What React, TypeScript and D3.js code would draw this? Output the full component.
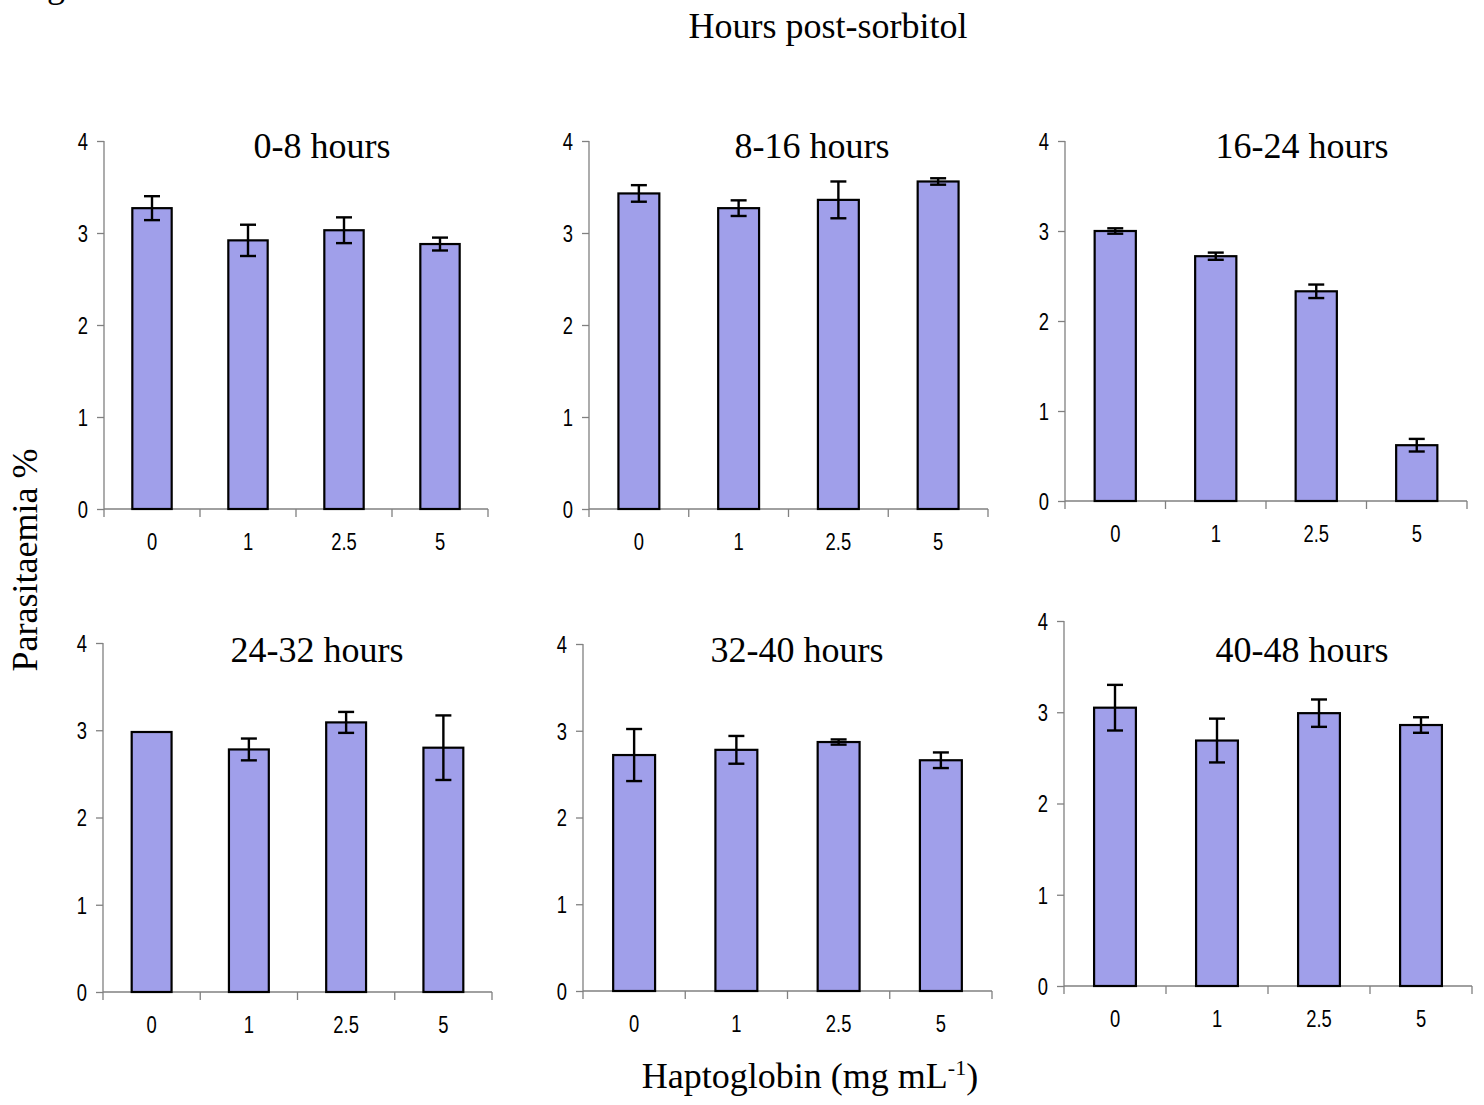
import { useEffect, useRef } from "react";
import * as d3 from "d3";

// haptoglobin doses (mg/mL)
const doses = ["0", "1", "2.5", "5"];
const yTicks = [0, 1, 2, 3, 4];

const titles = ["0-8 hours", "8-16 hours", "16-24 hours", "24-32 hours", "32-40 hours", "40-48 hours"];

// parasitaemia % (mean) and error per window
const mean0to8 = [3.27, 2.92, 3.03, 2.88];
const err0to8 = [0.13, 0.17, 0.14, 0.07];
const mean8to16 = [3.43, 3.27, 3.36, 3.56];
const err8to16 = [0.09, 0.085, 0.2, 0.035];
const mean16to24 = [3.0, 2.72, 2.33, 0.62];
const err16to24 = [0.03, 0.04, 0.075, 0.07];
const mean24to32 = [2.98, 2.78, 3.09, 2.8];
const err24to32 = [0, 0.125, 0.12, 0.37];
const mean32to40 = [2.72, 2.78, 2.87, 2.66];
const err32to40 = [0.3, 0.16, 0.03, 0.09];
const mean40to48 = [3.05, 2.69, 2.99, 2.86];
const err40to48 = [0.25, 0.24, 0.15, 0.085];

const means = [mean0to8, mean8to16, mean16to24, mean24to32, mean32to40, mean40to48];
const errs = [err0to8, err8to16, err16to24, err24to32, err32to40, err40to48];

// panel frames: y-axis x, x-axis end, y of top (4) and y of 0, title position
const frames = [
  { x0: 104, x1: 488, yTop: 141, yBot: 509, tx: 322, ty: 158 },
  { x0: 589, x1: 988, yTop: 141, yBot: 509, tx: 812, ty: 158 },
  { x0: 1065, x1: 1467, yTop: 141, yBot: 501, tx: 1302, ty: 158 },
  { x0: 103, x1: 492, yTop: 643, yBot: 992, tx: 317, ty: 662 },
  { x0: 583, x1: 992, yTop: 644, yBot: 991, tx: 797, ty: 662 },
  { x0: 1064, x1: 1472, yTop: 621, yBot: 986, tx: 1302, ty: 662 },
];

const W = 1484;
const H = 1105;
const serif = "'Liberation Serif', 'Times New Roman', serif";
const sans = "'Liberation Sans', Arial, sans-serif";

function App() {
  const ref = useRef<SVGSVGElement>(null);

  useEffect(() => {
    const svg = d3.select(ref.current);
    svg.selectAll("*").remove();

    svg.append("rect").attr("width", W).attr("height", H).attr("fill", "#fff");

    // figure label, mostly cut off at the top edge as in the scan
    svg.append("text").attr("x", 17).attr("y", -3)
      .style("font-family", serif).style("font-size", "36px").text("Fig. 2");

    svg.append("text").attr("x", 828).attr("y", 38).attr("text-anchor", "middle")
      .style("font-family", serif).style("font-size", "36px").text("Hours post-sorbitol");

    svg.append("text").attr("transform", "translate(37,560) rotate(-90)")
      .attr("text-anchor", "middle")
      .style("font-family", serif).style("font-size", "36px").text("Parasitaemia %");

    const xl = svg.append("text").attr("x", 810).attr("y", 1088).attr("text-anchor", "middle")
      .style("font-family", serif).style("font-size", "36px");
    xl.append("tspan").text("Haptoglobin (mg mL");
    xl.append("tspan").attr("dy", -13).style("font-size", "22px").text("-1");
    xl.append("tspan").attr("dy", 13).text(")");

    frames.forEach((f, i) => {
      const x = d3.scaleBand<string>().domain(doses).range([f.x0, f.x1]).padding(0);
      const y = d3.scaleLinear().domain([0, 4]).range([f.yBot, f.yTop]);
      const g = svg.append("g");

      // y axis
      const ya = g.append("g").attr("transform", `translate(${f.x0},0)`)
        .call(d3.axisLeft(y).tickValues(yTicks).tickSize(7).tickFormat(d3.format("d")));
      ya.attr("font-size", null).attr("font-family", null);
      ya.select(".domain").attr("stroke", "#808080").attr("stroke-width", 1.3)
        .attr("d", `M0,${f.yTop}V${f.yBot + 8}`);
      ya.selectAll(".tick line").attr("stroke", "#808080").attr("stroke-width", 1.3);
      ya.selectAll(".tick text").attr("x", -20).attr("dy", "0.36em")
        .attr("font-family", sans).attr("font-size", 23).attr("fill", "#000")
        .attr("transform", "scale(0.8,1)");

      // x axis with ticks at category boundaries
      const xa = g.append("g").attr("transform", `translate(0,${f.yBot})`)
        .call(d3.axisBottom(x).tickSize(0));
      xa.attr("font-size", null).attr("font-family", null);
      xa.select(".domain").attr("stroke", "#808080").attr("stroke-width", 1.3)
        .attr("d", `M${f.x0},0H${f.x1}`);
      xa.selectAll(".tick text").attr("y", 33).attr("dy", "0.36em")
        .attr("font-family", sans).attr("font-size", 23).attr("fill", "#000")
        .attr("transform", "scale(0.8,1)");
      const bounds = doses.map((d) => x(d) as number).concat([f.x1]);
      xa.selectAll(".bnd").data(bounds.slice(1)).join("line")
        .attr("x1", (d) => d).attr("x2", (d) => d).attr("y1", 0).attr("y2", 8)
        .attr("stroke", "#808080").attr("stroke-width", 1.3);

      const bw = x.bandwidth() * 0.41;
      const cx = (d: string) => (x(d) as number) + x.bandwidth() / 2;

      g.selectAll(".bar").data(doses).join("rect")
        .attr("x", (d) => cx(d) - bw / 2)
        .attr("y", (d, j) => y(means[i][j]))
        .attr("width", bw)
        .attr("height", (d, j) => f.yBot - y(means[i][j]))
        .attr("fill", "#a09fea").attr("stroke", "#000").attr("stroke-width", 2.2);

      // error bars
      doses.forEach((d, j) => {
        const e = errs[i][j];
        if (e <= 0) return;
        const hi = y(means[i][j] + e);
        const lo = y(means[i][j] - e);
        const c = cx(d);
        const eg = g.append("g").attr("stroke", "#000").attr("stroke-width", 2.4);
        eg.append("line").attr("x1", c).attr("x2", c).attr("y1", hi).attr("y2", lo);
        eg.append("line").attr("x1", c - 8).attr("x2", c + 8).attr("y1", hi).attr("y2", hi);
        eg.append("line").attr("x1", c - 8).attr("x2", c + 8).attr("y1", lo).attr("y2", lo);
      });

      g.append("text").attr("x", f.tx).attr("y", f.ty).attr("text-anchor", "middle")
        .style("font-family", serif).style("font-size", "36px").text(titles[i]);
    });
  }, []);

  return (
    <svg
      ref={ref}
      width={W}
      height={H}
      style={{ position: "absolute", left: 0, top: 0, display: "block" }}
    ></svg>
  );
}

export default App;
